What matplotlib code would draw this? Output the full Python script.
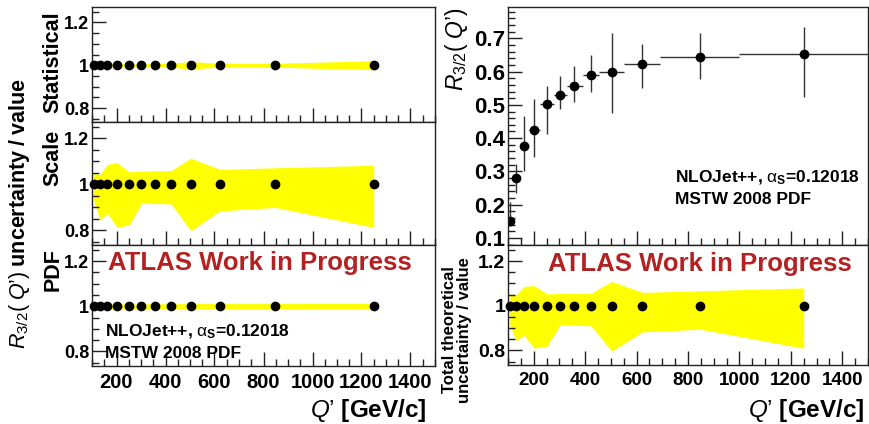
import matplotlib
matplotlib.use("Agg")
import matplotlib.pyplot as plt
from matplotlib.ticker import MultipleLocator, NullFormatter, FuncFormatter

plt.rcParams['font.family'] = ['Liberation Sans', 'DejaVu Sans']
plt.rcParams['mathtext.fontset'] = 'custom'
plt.rcParams['mathtext.rm'] = 'Liberation Sans'
plt.rcParams['mathtext.it'] = 'Liberation Sans:italic'
plt.rcParams['mathtext.bf'] = 'Liberation Sans:bold'

# Q' bins [GeV/c]
q_center = [107, 132, 162, 202, 252, 302, 357, 423, 503, 623, 848, 1250]
q_low = [100, 118, 145, 180, 226, 278, 330, 392, 452, 552, 692, 1000]
q_high = [118, 145, 180, 226, 278, 330, 392, 452, 552, 692, 1000, 1500]

# R_3/2 prediction with total theory band
r32 = [0.152, 0.279, 0.377, 0.425, 0.502, 0.531, 0.557, 0.590, 0.600, 0.622, 0.645, 0.652]
r32_up = [0.209, 0.323, 0.467, 0.519, 0.557, 0.587, 0.617, 0.650, 0.715, 0.683, 0.717, 0.735]
r32_dn = [0.135, 0.235, 0.302, 0.343, 0.413, 0.487, 0.510, 0.540, 0.477, 0.550, 0.579, 0.525]

# relative uncertainty bands (upper / lower edge)
stat_hi = [1.018, 1.010, 1.008, 1.007, 1.007, 1.007, 1.008, 1.010, 1.017, 1.009, 1.009, 1.021]
stat_lo = [0.979, 0.990, 0.992, 0.993, 0.993, 0.993, 0.992, 0.990, 0.983, 0.991, 0.991, 0.979]
scale_hi = [1.050, 1.042, 1.087, 1.095, 1.054, 1.057, 1.059, 1.060, 1.114, 1.065, 1.072, 1.083]
scale_lo = [0.929, 0.844, 0.874, 0.812, 0.823, 0.917, 0.916, 0.914, 0.797, 0.884, 0.899, 0.812]
pdf_hi = [1.010, 1.010, 1.010, 1.010, 1.011, 1.011, 1.011, 1.011, 1.012, 1.012, 1.012, 1.013]
pdf_lo = [0.990, 0.990, 0.990, 0.990, 0.989, 0.989, 0.989, 0.989, 0.988, 0.988, 0.988, 0.987]
total_hi = [1.053, 1.050, 1.087, 1.090, 1.053, 1.055, 1.055, 1.056, 1.109, 1.060, 1.067, 1.080]
total_lo = [0.913, 0.843, 0.868, 0.810, 0.820, 0.913, 0.913, 0.910, 0.797, 0.883, 0.895, 0.810]

W, H = 870, 424
RED = '#b22222'


def rect(x0, y0, x1, y1):
    # pixel box (top-left origin) -> figure fraction
    return [x0 / W, 1 - y1 / H, (x1 - x0) / W, (y1 - y0) / H]


def style(ax, ymajor, yminor, xlabels, xsize, ysize):
    for s in ax.spines.values():
        s.set_linewidth(1.0)
        s.set_color('#222222')
    ax.set_xlim(100, 1500)
    ax.xaxis.set_major_locator(MultipleLocator(200))
    ax.xaxis.set_minor_locator(MultipleLocator(50))
    ax.yaxis.set_major_locator(MultipleLocator(ymajor))
    ax.yaxis.set_minor_locator(MultipleLocator(yminor))
    ax.yaxis.set_major_formatter(FuncFormatter(lambda v, p: f"{v:g}"))
    ax.tick_params(which='both', direction='in', top=False, right=False, color='#222222')
    ax.tick_params(which='major', length=10, width=1.0)
    ax.tick_params(which='minor', length=5, width=1.0)
    ax.tick_params(axis='x', pad=5, labelsize=xsize)
    ax.tick_params(axis='y', pad=2, labelsize=ysize)
    for lab in ax.get_xticklabels() + ax.get_yticklabels():
        lab.set_fontweight('bold')
    if not xlabels:
        ax.xaxis.set_major_formatter(NullFormatter())


def ratio_panel(ax, lo, hi, xlabels, xsize, ysize):
    ax.fill_between(q_center, lo, hi, color='#ffff00', lw=0, zorder=1)
    ax.plot(q_center, [1] * len(q_center), 'o', color='black', ms=6, zorder=3, clip_on=False)
    ax.set_ylim(0.735, 1.272)
    style(ax, 0.2, 0.05, xlabels, xsize, ysize)


fig = plt.figure(figsize=(W / 100, H / 100), dpi=100)

ax_stat = fig.add_axes(rect(92, 7, 435, 122))
ax_scale = fig.add_axes(rect(92, 122, 435, 245))
ax_pdf = fig.add_axes(rect(92, 245, 435, 366))
ax_r32 = fig.add_axes(rect(508, 7, 868, 245))
ax_tot = fig.add_axes(rect(508, 245, 868, 365))

ratio_panel(ax_stat, stat_lo, stat_hi, False, 14.5, 13)
ratio_panel(ax_scale, scale_lo, scale_hi, False, 14.5, 13)
ratio_panel(ax_pdf, pdf_lo, pdf_hi, True, 14.5, 13)
ratio_panel(ax_tot, total_lo, total_hi, True, 13.5, 14)

# R_3/2 with bin widths and total theory uncertainty
xerr = [[c - l for c, l in zip(q_center, q_low)], [h - c for c, h in zip(q_center, q_high)]]
yerr = [[v - d for v, d in zip(r32, r32_dn)], [u - v for v, u in zip(r32, r32_up)]]
ax_r32.errorbar(q_center, r32, xerr=xerr, yerr=yerr, fmt='o', color='black', ms=6,
                ecolor='#333333', elinewidth=1.0, capsize=0)
ax_r32.set_ylim(0.079, 0.794)
style(ax_r32, 0.1, 0.02, False, 13.5, 16)

# panel titles
for name, ytop in [('Statistical', 11), ('Scale', 130), ('PDF', 248)]:
    fig.text(53 / W, 1 - ytop / H, name, rotation=90, ha='center', va='top',
             fontsize=15.5, fontweight='bold')

qp = "$\\mathit{Q\u2019}$"
fig.text(20 / W, 1 - 214 / H,
         "$\\mathit{R}_{\\mathit{3/2}}\\mathrm{(\\;}\\mathit{Q\u2019}\\mathrm{)}\\;\\mathbf{uncertainty\\;/\\;value}$",
         rotation=90, ha='center', va='center', fontsize=15.5)
fig.text(457 / W, 1 - 8 / H, "$\\mathit{R}_{\\mathit{3/2}}\\mathrm{(\\;}\\mathit{Q\u2019}\\mathrm{)}$",
         rotation=90, ha='center', va='top', fontsize=16.5)
fig.text(457 / W, 1 - 330 / H, "Total theoretical\nuncertainty / value", rotation=90,
         ha='center', va='center', fontsize=12, fontweight='bold', linespacing=0.95)

xlab = qp + " $\\mathbf{[GeV/c]}$"
fig.text(427 / W, 1 - 410 / H, xlab, ha='right', va='center', fontsize=17.5)
fig.text(865 / W, 1 - 410 / H, xlab, ha='right', va='center', fontsize=17.5)

# labels inside the panels
fig.text(108 / W, 1 - 263 / H, 'ATLAS Work in Progress',
         ha='left', va='center', fontsize=18.5, fontweight='bold', color=RED)
fig.text(548 / W, 1 - 264 / H, 'ATLAS Work in Progress',
         ha='left', va='center', fontsize=18.5, fontweight='bold', color=RED)

gen = r"NLOJet++, $\mathrm{\alpha}_\mathbf{S}$=0.12018"
fig.text(105 / W, 1 - 332 / H, gen, ha='left', va='center', fontsize=12.5, fontweight='bold')
fig.text(105 / W, 1 - 354 / H, 'MSTW 2008 PDF', ha='left', va='center', fontsize=12.5, fontweight='bold')
fig.text(675 / W, 1 - 178 / H, gen, ha='left', va='center', fontsize=12.5, fontweight='bold')
fig.text(675 / W, 1 - 199 / H, 'MSTW 2008 PDF', ha='left', va='center', fontsize=12.5, fontweight='bold')

fig.savefig('out.png', dpi=100)
